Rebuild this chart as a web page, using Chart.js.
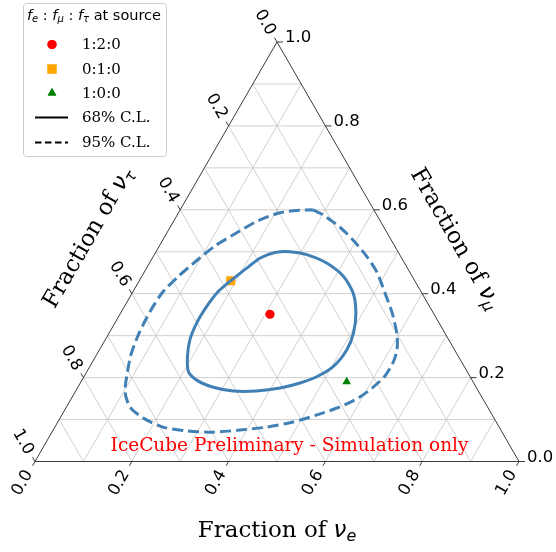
<!DOCTYPE html>
<html>
<head>
<meta charset="utf-8">
<script src="https://cdn.jsdelivr.net/npm/chart.js@4.4.1/dist/chart.umd.min.js"></script>
<style>
  html, body { margin: 0; padding: 0; background: #fff; }
  canvas { display: block; }
</style>
</head>
<body>
<canvas id="ternary" width="556" height="552"></canvas>
<script>
// tick labels and grid (fractions)
const tickValues = [0.0, 0.2, 0.4, 0.6, 0.8, 1.0];
const gridValues = [0.1, 0.2, 0.3, 0.4, 0.5, 0.6, 0.7, 0.8, 0.9];

// contours, each point is [f_e, f_mu] (f_tau = 1 - f_e - f_mu)
const cl68 = [
  [0.189, 0.431], [0.207, 0.461], [0.223, 0.485], [0.247, 0.498], [0.277, 0.500],
  [0.315, 0.493], [0.366, 0.473], [0.417, 0.441], [0.457, 0.401], [0.486, 0.354],
  [0.505, 0.306], [0.511, 0.266], [0.503, 0.226], [0.481, 0.202], [0.454, 0.187],
  [0.419, 0.175], [0.374, 0.168], [0.326, 0.168], [0.280, 0.177], [0.237, 0.194],
  [0.210, 0.214], [0.190, 0.250], [0.175, 0.290], [0.169, 0.330], [0.170, 0.369],
  [0.176, 0.405], [0.189, 0.431]
];
const cl95 = [
  [0.274, 0.600], [0.301, 0.588], [0.350, 0.559], [0.393, 0.528], [0.442, 0.488],
  [0.482, 0.450], [0.522, 0.402], [0.561, 0.354], [0.597, 0.302], [0.615, 0.266],
  [0.622, 0.235], [0.621, 0.204], [0.609, 0.175], [0.592, 0.151], [0.565, 0.130],
  [0.527, 0.111], [0.486, 0.094], [0.438, 0.082], [0.386, 0.075], [0.333, 0.070],
  [0.278, 0.073], [0.223, 0.082], [0.171, 0.104], [0.131, 0.130], [0.103, 0.166],
  [0.087, 0.206], [0.071, 0.254], [0.062, 0.307], [0.059, 0.357], [0.062, 0.404],
  [0.075, 0.440], [0.094, 0.478], [0.115, 0.514], [0.146, 0.547], [0.174, 0.574],
  [0.210, 0.593], [0.248, 0.599], [0.274, 0.600]
];

// best fit points for each source composition
const sourceLabels = ['1:2:0', '0:1:0', '1:0:0'];
const sourcePoints = [[0.310, 0.351], [0.189, 0.431], [0.549, 0.190]];
const sourceColors = ['#ff0000', '#ffa500', '#008000'];
const sourceStyles = ['circle', 'rect', 'triangle'];
const sourceSizes = [4.6, 6.4, 5];

const clLabels = ['68% C.L.', '95% C.L.'];
const contourColor = '#4180b5';

const H = Math.sqrt(3) / 2;
function toXY(p) {
  return { x: p[0] + p[1] / 2, y: p[1] * H };
}

const SERIF = '"DejaVu Serif", serif';
const SANS = '"DejaVu Sans", sans-serif';

// draws a row of text pieces with different fonts
function drawRuns(ctx, runs, x, y, angle, align) {
  ctx.save();
  ctx.translate(x, y);
  ctx.rotate(angle);
  ctx.textAlign = 'left';
  ctx.textBaseline = 'middle';
  let total = 0;
  runs.forEach(r => { ctx.font = r.font; r.w = ctx.measureText(r.t).width; total += r.w; });
  let cx = align === 'center' ? -total / 2 : (align === 'right' ? -total : 0);
  runs.forEach(r => {
    ctx.font = r.font;
    ctx.fillStyle = r.color || '#000';
    ctx.fillText(r.t, cx, r.dy || 0);
    cx += r.w;
  });
  ctx.restore();
}

const ternaryPlugin = {
  id: 'ternary',
  beforeDatasetsDraw(chart) {
    const ctx = chart.ctx;
    const sx = chart.scales.x, sy = chart.scales.y;
    const px = (e, mu) => {
      const p = toXY([e, mu]);
      return [sx.getPixelForValue(p.x), sy.getPixelForValue(p.y)];
    };
    const seg = (a, b) => { ctx.beginPath(); ctx.moveTo(a[0], a[1]); ctx.lineTo(b[0], b[1]); ctx.stroke(); };

    ctx.save();
    ctx.strokeStyle = '#cbcbcb';
    ctx.lineWidth = 0.9;
    gridValues.forEach(g => {
      seg(px(g, 0), px(g, 1 - g));         // const f_e
      seg(px(0, g), px(1 - g, g));         // const f_mu
      seg(px(0, 1 - g), px(1 - g, 0));     // const f_tau
    });
    ctx.strokeStyle = '#3a3a3a';
    ctx.lineWidth = 1;
    ctx.beginPath();
    const a = px(0, 0), b = px(1, 0), c = px(0, 1);
    ctx.moveTo(a[0], a[1]); ctx.lineTo(b[0], b[1]); ctx.lineTo(c[0], c[1]); ctx.closePath();
    ctx.stroke();

    // ticks and labels
    const tickFont = '16.5px ' + SANS;
    ctx.fillStyle = '#000';
    tickValues.forEach(t => {
      const lab = t.toFixed(1);
      // bottom: f_e
      let p = px(t, 0);
      seg(p, [p[0] - 2.5, p[1] + 4.3]);
      drawRuns(ctx, [{ t: lab, font: tickFont }], p[0] - 12.5, p[1] + 21.5, -Math.PI / 3, 'center');
      // right: f_mu
      p = px(1 - t, t);
      seg(p, [p[0] + 6, p[1]]);
      drawRuns(ctx, [{ t: lab, font: tickFont }], p[0] + 8, p[1] - 4, 0, 'left');
      // left: f_tau
      p = px(0, 1 - t);
      seg(p, [p[0] - 2.5, p[1] - 4.3]);
      drawRuns(ctx, [{ t: lab, font: tickFont }], p[0] - 12, p[1] - 19.5, Math.PI / 3, 'center');
    });
    ctx.restore();
  },
  afterDraw(chart) {
    const ctx = chart.ctx;
    const nuFont = 'oblique 23px ' + SANS;
    const subFont = 'oblique 16px ' + SANS;
    const labFont = '23px ' + SERIF;
    // axis titles
    drawRuns(ctx, [
      { t: 'Fraction of ', font: labFont },
      { t: 'ν', font: nuFont },
      { t: 'e', font: subFont, dy: 6 }
    ], 277, 531, 0, 'center');
    drawRuns(ctx, [
      { t: 'Fraction of ', font: labFont },
      { t: 'ν', font: nuFont },
      { t: 'μ', font: subFont, dy: 6 }
    ], 455, 239, Math.PI / 3, 'center');
    drawRuns(ctx, [
      { t: 'Fraction of ', font: labFont },
      { t: 'ν', font: nuFont },
      { t: 'τ', font: subFont, dy: 6 }
    ], 89, 238, -Math.PI / 3, 'center');

    // watermark
    drawRuns(ctx, [{ t: 'IceCube Preliminary - Simulation only', font: '18.5px ' + SERIF, color: '#ff0000' }],
      289.5, 446, 0, 'center');

    // legend box
    ctx.save();
    ctx.fillStyle = 'rgba(255,255,255,0.85)';
    ctx.strokeStyle = '#cccccc';
    ctx.lineWidth = 1;
    ctx.beginPath();
    ctx.roundRect(23.5, 3.5, 143, 153, 3);
    ctx.fill();
    ctx.stroke();
    ctx.restore();

    const fi = 'oblique 14.5px ' + SANS, fs = 'oblique 10px ' + SANS, fr = '14.5px ' + SANS;
    drawRuns(ctx, [
      { t: 'f', font: fi }, { t: 'e', font: fs, dy: 3 }, { t: ' : ', font: fr },
      { t: 'f', font: fi }, { t: 'μ', font: fs, dy: 3 }, { t: ' : ', font: fr },
      { t: 'f', font: fi }, { t: 'τ', font: fs, dy: 3 }, { t: ' at source', font: fr }
    ], 94, 16, 0, 'center');

    const rowY = [44.5, 69, 93, 117.5, 142.5];
    const entryFont = '15px ' + SERIF;
    sourceLabels.forEach((lab, i) => {
      ctx.save();
      ctx.fillStyle = sourceColors[i];
      Chart.helpers.drawPoint(ctx, { pointStyle: sourceStyles[i], radius: sourceSizes[i], rotation: 0, borderWidth: 0 }, 52, rowY[i]);
      ctx.fill();
      ctx.restore();
      drawRuns(ctx, [{ t: lab, font: entryFont }], 82, rowY[i] + 1, 0, 'left');
    });
    clLabels.forEach((lab, j) => {
      const y = rowY[3 + j];
      ctx.save();
      ctx.strokeStyle = '#000';
      ctx.lineWidth = 2.2;
      ctx.setLineDash(j === 0 ? [] : [6.5, 3.5]);
      ctx.beginPath();
      ctx.moveTo(35, y); ctx.lineTo(68, y);
      ctx.stroke();
      ctx.restore();
      drawRuns(ctx, [{ t: lab, font: entryFont }], 82, y + 1, 0, 'left');
    });
  }
};

const datasets = [
  {
    label: clLabels[0],
    data: cl68.map(toXY),
    showLine: true, borderColor: contourColor, borderWidth: 3,
    pointRadius: 0, tension: 0.25
  },
  {
    label: clLabels[1],
    data: cl95.map(toXY),
    showLine: true, borderColor: contourColor, borderWidth: 3, borderDash: [11, 5],
    pointRadius: 0, tension: 0.25
  }
];
sourceLabels.forEach((lab, i) => {
  datasets.push({
    label: lab,
    data: [toXY(sourcePoints[i])],
    showLine: false,
    pointStyle: sourceStyles[i],
    pointRadius: sourceSizes[i],
    backgroundColor: sourceColors[i],
    borderWidth: 0
  });
});

new Chart(document.getElementById('ternary'), {
  type: 'scatter',
  data: { datasets },
  options: {
    responsive: false,
    animation: false,
    devicePixelRatio: 1,
    layout: { padding: { left: 35, right: 37, top: 42, bottom: 90.5 } },
    scales: {
      x: { type: 'linear', min: 0, max: 1, display: false },
      y: { type: 'linear', min: 0, max: H, display: false }
    },
    plugins: {
      legend: { display: false },
      tooltip: { enabled: false }
    }
  },
  plugins: [ternaryPlugin]
});
</script>
</body>
</html>
